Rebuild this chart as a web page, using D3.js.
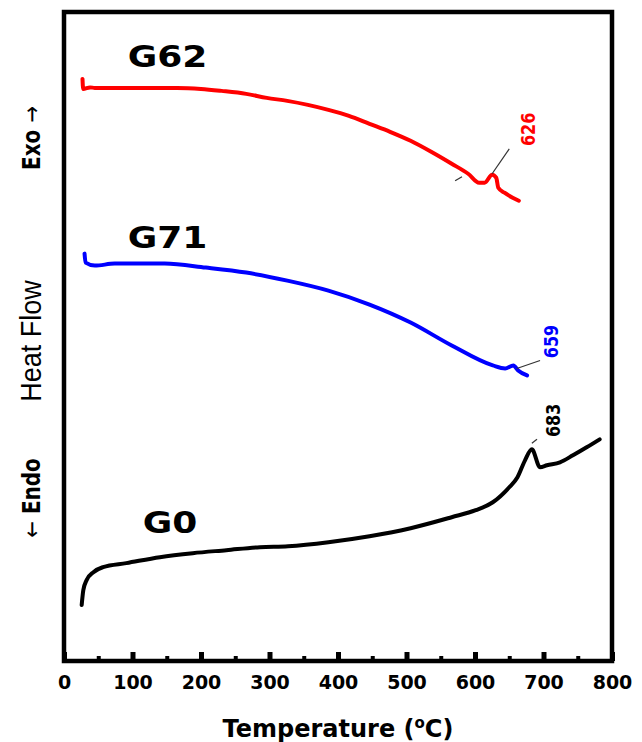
<!DOCTYPE html>
<html>
<head>
<meta charset="utf-8">
<script src="https://cdn.jsdelivr.net/npm/d3@7"></script>
<style>
  body { margin: 0; background: #fff; }
</style>
</head>
<body>
<div id="chart"></div>
<script>
// DSC traces, heat flow in arbitrary units
var tempG62 = [27, 28, 38, 45, 165, 200, 230, 266, 296, 326, 356, 386, 416, 446, 476, 506, 536, 566, 590, 606, 614, 625, 631, 634, 643, 655, 664];
var flowG62 = [58.3, 57.3, 57.45, 57.4, 57.4, 57.3, 57.1, 56.8, 56.4, 56.1, 55.7, 55.2, 54.6, 53.8, 53.0, 52.1, 51.0, 49.8, 48.8, 47.9, 47.9, 48.7, 48.4, 47.4, 46.9, 46.4, 46.1];

var tempG71 = [30, 31.5, 45, 74, 147, 207, 266, 326, 386, 446, 506, 566, 626, 644, 656, 663, 676];
var flowG71 = [40.8, 39.9, 39.6, 39.8, 39.8, 39.4, 38.9, 38.1, 37.1, 35.7, 33.9, 31.6, 29.6, 29.3, 29.6, 29.1, 28.6];

var tempG0 = [25.8, 28.2, 33, 43, 57, 91, 140, 188, 237, 286, 327, 386, 446, 506, 566, 601, 626, 650, 662, 673, 683, 695, 705, 724, 743, 763, 782];
var flowG0 = [5.6, 7.1, 8.1, 8.9, 9.4, 9.8, 10.4, 10.8, 11.1, 11.4, 11.5, 11.9, 12.5, 13.3, 14.4, 15.1, 15.9, 17.4, 18.4, 20.1, 21.2, 19.4, 19.6, 19.9, 20.6, 21.4, 22.2];

var sampleNames = ["G62", "G71", "G0"];
var sampleColors = ["#ff0000", "#0000ff", "#000000"];
var nameTemp = [93, 93, 115];
var nameFlow = [59.5, 41.4, 12.8];

// peak annotations: label and its leader line
var peakLabels = ["626", "659", "683"];
var peakLabelTemp = [687, 721, 724];
var peakLabelFlow = [53.25, 32, 24.1];
var leaderTemp = [[625, 650], [661, 695], [683, 690.5]];
var leaderFlow = [[48.8, 51.3], [29.3, 30.1], [21.8, 22.2]];

var xTicks = [0, 100, 200, 300, 400, 500, 600, 700, 800];
var xMinorTicks = [50, 150, 250, 350, 450, 550, 650, 750];

(function() {
  var width = 642,
      height = 742;
  var left = 64, right = 612, top = 12, bottom = 661;

  var svg = d3.select("#chart")
    .append("svg")
    .attr("width", width)
    .attr("height", height);

  var x = d3.scaleLinear().domain([0, 800]).range([left, right]);
  var y = d3.scaleLinear().domain([0, 65]).range([bottom, top]);

  var series = [
    d3.zip(tempG62, flowG62),
    d3.zip(tempG71, flowG71),
    d3.zip(tempG0, flowG0)
  ];

  var line = d3.line()
    .x(function(d) { return x(d[0]); })
    .y(function(d) { return y(d[1]); })
    .curve(d3.curveMonotoneX);

  svg.selectAll(".trace")
    .data(series)
    .enter().append("path")
    .attr("class", "trace")
    .attr("d", line)
    .attr("fill", "none")
    .attr("stroke", function(d, i) { return sampleColors[i]; })
    .attr("stroke-width", 4)
    .attr("stroke-linejoin", "round")
    .attr("stroke-linecap", "round");

  // leader lines
  svg.selectAll(".leader")
    .data(d3.range(peakLabels.length))
    .enter().append("line")
    .attr("x1", function(i) { return x(leaderTemp[i][0]); })
    .attr("y1", function(i) { return y(leaderFlow[i][0]); })
    .attr("x2", function(i) { return x(leaderTemp[i][1]); })
    .attr("y2", function(i) { return y(leaderFlow[i][1]); })
    .attr("stroke", "#333")
    .attr("stroke-width", 1.2);

  // tiny tangent mark under G62
  svg.append("line")
    .attr("x1", x(571)).attr("y1", y(48.1))
    .attr("x2", x(581)).attr("y2", y(48.5))
    .attr("stroke", "#333")
    .attr("stroke-width", 1.2);

  svg.selectAll(".peak")
    .data(peakLabels)
    .enter().append("text")
    .attr("class", "peak")
    .attr("transform", function(d, i) {
      return "translate(" + x(peakLabelTemp[i]) + "," + y(peakLabelFlow[i]) + ") rotate(-90) scale(1,1.25)";
    })
    .attr("text-anchor", "middle")
    .attr("font-family", "DejaVu Sans")
    .attr("font-weight", "bold")
    .attr("font-size", 16)
    .attr("fill", function(d, i) { return sampleColors[i]; })
    .text(function(d) { return d; });

  svg.selectAll(".name")
    .data(sampleNames)
    .enter().append("text")
    .attr("class", "name")
    .attr("transform", function(d, i) {
      return "translate(" + x(nameTemp[i]) + "," + y(nameFlow[i]) + ") scale(1.2,1)";
    })
    .attr("font-family", "DejaVu Sans")
    .attr("font-weight", "bold")
    .attr("font-size", 30)
    .attr("fill", "#000")
    .text(function(d) { return d; });

  // frame
  svg.append("rect")
    .attr("x", left)
    .attr("y", top)
    .attr("width", right - left)
    .attr("height", bottom - top)
    .attr("fill", "none")
    .attr("stroke", "#000")
    .attr("stroke-width", 4.5);

  var axis = svg.append("g")
    .attr("transform", "translate(0," + bottom + ")")
    .call(d3.axisBottom(x).tickValues(xTicks).tickSizeInner(-9).tickSizeOuter(0));
  axis.select(".domain").remove();
  axis.selectAll("line").attr("stroke-width", 5);
  axis.selectAll("text")
    .attr("y", 15)
    .attr("dy", "0.71em")
    .attr("font-family", "DejaVu Sans")
    .attr("font-weight", "bold")
    .attr("font-size", 19)
    .attr("fill", "#000");

  var minor = svg.append("g")
    .attr("transform", "translate(0," + bottom + ")")
    .call(d3.axisBottom(x).tickValues(xMinorTicks).tickSizeInner(-5).tickSizeOuter(0).tickFormat(""));
  minor.select(".domain").remove();
  minor.selectAll("line").attr("stroke-width", 4);

  var title = svg.append("text")
    .attr("x", (left + right) / 2)
    .attr("y", 737)
    .attr("text-anchor", "middle")
    .attr("font-family", "DejaVu Sans")
    .attr("font-weight", "bold")
    .attr("font-size", 24)
    .attr("fill", "#000");
  title.append("tspan").text("Temperature (");
  title.append("tspan").attr("font-size", 15).attr("dy", -9).text("o");
  title.append("tspan").attr("dy", 9).text("C)");

  // y axis side labels
  svg.append("text")
    .attr("transform", "translate(41,341) rotate(-90) scale(1,1.12)")
    .attr("text-anchor", "middle")
    .attr("font-family", "Liberation Sans")
    .attr("font-size", 27)
    .attr("fill", "#000")
    .text("Heat Flow");

  var exo = svg.append("text")
    .attr("transform", "translate(40,138) rotate(-90) scale(1,1.2)")
    .attr("text-anchor", "middle")
    .attr("font-family", "DejaVu Sans")
    .attr("font-weight", "bold")
    .attr("font-size", 20)
    .attr("fill", "#000");
  exo.append("tspan").text("Exo ");
  exo.append("tspan").attr("font-weight", "normal").text("\u2192");

  var endo = svg.append("text")
    .attr("transform", "translate(40,498) rotate(-90) scale(1,1.2)")
    .attr("text-anchor", "middle")
    .attr("font-family", "DejaVu Sans")
    .attr("font-weight", "bold")
    .attr("font-size", 20)
    .attr("fill", "#000");
  endo.append("tspan").attr("font-weight", "normal").text("\u2190");
  endo.append("tspan").text(" Endo");
})();
</script>
</body>
</html>
